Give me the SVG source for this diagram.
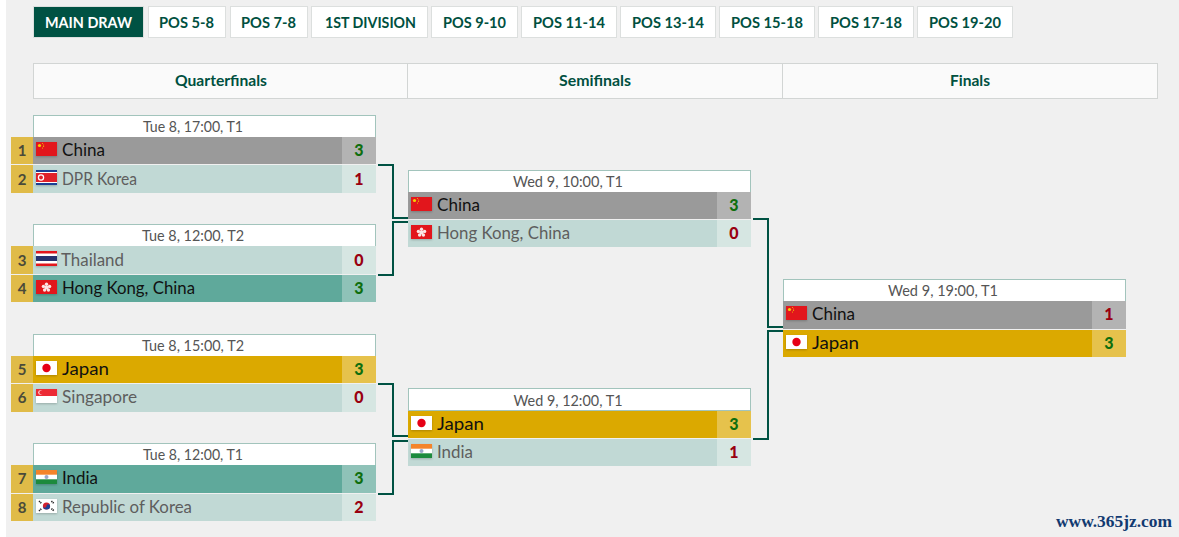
<svg xmlns="http://www.w3.org/2000/svg" xmlns:xlink="http://www.w3.org/1999/xlink" width="1179" height="537" viewBox="0 0 1179 537">
<style>
text{font-family:"Lato","Inter","Liberation Sans",sans-serif}
.tab{fill:#fff;stroke:#dcdfde;stroke-width:1}
.tabon{fill:#005243;stroke:#dcdfde;stroke-width:1}
.tt{font-size:16px;font-weight:700;fill:#00503f}
.ton{fill:#fff}
.colh{fill:#fafafa;stroke:#d2d5d4;stroke-width:1}
.ct{font-size:15px;font-weight:700;fill:#00503f}
.mh{fill:#fff;stroke:#a2c4bc;stroke-width:1}
.mt{font-size:15px;fill:#555;text-anchor:middle}
.seed{fill:#e0bb48}
.sn{font-size:15px;font-weight:700;fill:#4a4a3a;text-anchor:middle}
.l{fill:#c1d9d5}.ls{fill:#d6e6e2}
.w{fill:#5fa99b}.ws{fill:#8fc2b8}
.g{fill:#9a9a9a}.gs{fill:#b3b3b3}
.y{fill:#dba900}.ys{fill:#e6c24c}
.nl{font-size:16.5px;fill:#5e5e5e}
.nw{font-size:16.5px;fill:#111}
.s3{font-size:16px;font-weight:900;text-anchor:middle;fill:#0e6e0e}
.s0{font-size:16px;font-weight:900;text-anchor:middle;fill:#990010}
.conn{fill:none;stroke:#005243;stroke-width:2}
.wm{font-family:"Liberation Serif",serif;font-size:17px;font-weight:700;fill:#123a70}
</style>
<defs>
<filter id="sh" x="-20%" y="-20%" width="140%" height="150%"><feDropShadow dx="0" dy="1" stdDeviation="1.2" flood-color="#000" flood-opacity="0.22"/></filter>
<symbol id="cn" width="21" height="14" viewBox="0 0 21 14"><rect width="21" height="14" fill="#e2191a"/><circle cx="3.5" cy="3.5" r="1.6" fill="#f5d000"/><circle cx="6.5" cy="1.6" r=".5" fill="#f5d000"/><circle cx="7.6" cy="3" r=".5" fill="#f5d000"/><circle cx="7.6" cy="4.6" r=".5" fill="#f5d000"/><circle cx="6.5" cy="6" r=".5" fill="#f5d000"/></symbol>
<symbol id="kp" width="21" height="15" viewBox="0 0 21 15"><rect width="21" height="15" fill="#1c3f94"/><rect y="2" width="21" height="11" fill="#fff"/><rect y="3" width="21" height="9" fill="#e0202a"/><circle cx="5" cy="7.5" r="3.2" fill="#fff"/><circle cx="5" cy="7.5" r="1.9" fill="#e0202a"/></symbol>
<symbol id="th" width="21" height="15" viewBox="0 0 21 15"><rect width="21" height="15" fill="#e2191a"/><rect y="2.5" width="21" height="10" fill="#fff"/><rect y="5" width="21" height="5" fill="#27336e"/></symbol>
<symbol id="hk" width="21" height="14" viewBox="0 0 21 14"><rect width="21" height="14" fill="#e2191a"/><g fill="#fbe6e6"><circle cx="10.5" cy="4.2" r="1.7"/><circle cx="13.6" cy="6.4" r="1.7"/><circle cx="12.4" cy="10" r="1.7"/><circle cx="8.6" cy="10" r="1.7"/><circle cx="7.4" cy="6.4" r="1.7"/><circle cx="10.5" cy="7.5" r="2"/></g></symbol>
<symbol id="jp" width="21" height="14" viewBox="0 0 21 14"><rect width="21" height="14" fill="#fff"/><circle cx="10.5" cy="7" r="4.2" fill="#e60012"/></symbol>
<symbol id="sg" width="21" height="14" viewBox="0 0 21 14"><rect width="21" height="14" fill="#fff"/><rect width="21" height="7" fill="#ec2a35"/><circle cx="4.4" cy="3.5" r="2.2" fill="#fbe6e6"/><circle cx="5.3" cy="3.5" r="2" fill="#ec2a35"/></symbol>
<symbol id="in" width="21" height="14" viewBox="0 0 21 14"><rect width="21" height="14" fill="#fff"/><rect width="21" height="4.7" fill="#f4842b"/><rect y="9.3" width="21" height="4.7" fill="#1d8a3c"/><circle cx="10.5" cy="7" r="2" fill="#9aa6c8"/></symbol>
<symbol id="kr" width="21" height="14" viewBox="0 0 21 14"><rect width="21" height="14" fill="#fff"/><circle cx="10.5" cy="7" r="3.6" fill="#d3202f"/><path d="M6.9 7a3.6 3.6 0 0 0 7.2 0a1.8 1.8 0 0 0-3.6 0a1.8 1.8 0 0 1-3.6 0z" fill="#1c3f94"/><g stroke="#222" stroke-width="1.7" fill="none"><path d="M3 2.2l2.6 2.2M15.4 2.2L18 4.4M3 11.8l2.6-2.2M15.4 9.6l2.6 2.2" stroke-dasharray="1.2 .6"/></g></symbol>
</defs>
<rect width="1179" height="537" fill="#f0f0f0"/>
<rect width="6" height="537" fill="#fff"/>

<g id="tabs">
<g id="tab-main"><rect class="tabon" x="33.5" y="6.5" width="110" height="31"/><text class="tt ton" x="45" y="28" textLength="87" lengthAdjust="spacingAndGlyphs">MAIN DRAW</text></g>
<g id="tab-5-8"><rect class="tab" x="148.5" y="6.5" width="77" height="31"/><text class="tt" x="159" y="28" textLength="55" lengthAdjust="spacingAndGlyphs">POS 5-8</text></g>
<g id="tab-7-8"><rect class="tab" x="230.5" y="6.5" width="77" height="31"/><text class="tt" x="241" y="28" textLength="55" lengthAdjust="spacingAndGlyphs">POS 7-8</text></g>
<g id="tab-div1"><rect class="tab" x="311.5" y="6.5" width="116" height="31"/><text class="tt" x="325" y="28" textLength="91" lengthAdjust="spacingAndGlyphs">1ST DIVISION</text></g>
<g id="tab-9-10"><rect class="tab" x="431.5" y="6.5" width="86" height="31"/><text class="tt" x="443" y="28" textLength="63" lengthAdjust="spacingAndGlyphs">POS 9-10</text></g>
<g id="tab-11-14"><rect class="tab" x="521.5" y="6.5" width="95" height="31"/><text class="tt" x="533" y="28" textLength="72" lengthAdjust="spacingAndGlyphs">POS 11-14</text></g>
<g id="tab-13-14"><rect class="tab" x="620.5" y="6.5" width="95" height="31"/><text class="tt" x="632" y="28" textLength="72" lengthAdjust="spacingAndGlyphs">POS 13-14</text></g>
<g id="tab-15-18"><rect class="tab" x="719.5" y="6.5" width="95" height="31"/><text class="tt" x="731" y="28" textLength="72" lengthAdjust="spacingAndGlyphs">POS 15-18</text></g>
<g id="tab-17-18"><rect class="tab" x="818.5" y="6.5" width="95" height="31"/><text class="tt" x="830" y="28" textLength="72" lengthAdjust="spacingAndGlyphs">POS 17-18</text></g>
<g id="tab-19-20"><rect class="tab" x="917.5" y="6.5" width="95" height="31"/><text class="tt" x="929" y="28" textLength="72" lengthAdjust="spacingAndGlyphs">POS 19-20</text></g>
</g>

<g id="round-headers">
<g id="col-qf"><rect class="colh" x="33.5" y="63.5" width="374" height="35"/><text class="ct" x="175" y="86" textLength="92" lengthAdjust="spacingAndGlyphs">Quarterfinals</text></g>
<g id="col-sf"><rect class="colh" x="407.5" y="63.5" width="375" height="35"/><text class="ct" x="559" y="86" textLength="72" lengthAdjust="spacingAndGlyphs">Semifinals</text></g>
<g id="col-f"><rect class="colh" x="782.5" y="63.5" width="375" height="35"/><text class="ct" x="950" y="86" textLength="40" lengthAdjust="spacingAndGlyphs">Finals</text></g>
</g>

<g id="connectors">
<path class="conn" d="M378 165H393V218H408"/>
<path class="conn" d="M378 275H393V222H408"/>
<path class="conn" d="M378 384H393V436H408"/>
<path class="conn" d="M378 494H393V441H408"/>
<path class="conn" d="M753 219H768V327H783"/>
<path class="conn" d="M753 439H768V331H783"/>
</g>

<g id="qf1">
<rect class="mh" x="33.5" y="115.5" width="342" height="22"/><text class="mt" x="193" y="132" textLength="100" lengthAdjust="spacingAndGlyphs">Tue 8, 17:00, T1</text>
<rect class="seed" x="11" y="137" width="22" height="27"/><text class="sn" x="22" y="156">1</text>
<rect class="g" x="33" y="137" width="309" height="27"/><rect class="gs" x="342" y="137" width="34" height="27"/>
<use xlink:href="#cn" href="#cn" x="36" y="142" filter="url(#sh)"/><text class="nw" x="62" y="156" textLength="43" lengthAdjust="spacingAndGlyphs">China</text><text class="s3" x="359" y="156">3</text>
<rect class="seed" x="11" y="165" width="22" height="28"/><text class="sn" x="22" y="185">2</text>
<rect class="l" x="33" y="165" width="309" height="28"/><rect class="ls" x="342" y="165" width="34" height="28"/>
<use xlink:href="#kp" href="#kp" x="36" y="170" filter="url(#sh)"/><text class="nl" x="62" y="185" textLength="75" lengthAdjust="spacingAndGlyphs">DPR Korea</text><text class="s0" x="359" y="185">1</text>
</g>

<g id="qf2">
<rect class="mh" x="33.5" y="224.5" width="342" height="22"/><text class="mt" x="193" y="241" textLength="102" lengthAdjust="spacingAndGlyphs">Tue 8, 12:00, T2</text>
<rect class="seed" x="11" y="246" width="22" height="28"/><text class="sn" x="22" y="266">3</text>
<rect class="l" x="33" y="246" width="309" height="28"/><rect class="ls" x="342" y="246" width="34" height="28"/>
<use xlink:href="#th" href="#th" x="36" y="251" filter="url(#sh)"/><text class="nl" x="61" y="266" textLength="63" lengthAdjust="spacingAndGlyphs">Thailand</text><text class="s0" x="359" y="266">0</text>
<rect class="seed" x="11" y="275" width="22" height="27"/><text class="sn" x="22" y="294">4</text>
<rect class="w" x="33" y="275" width="309" height="27"/><rect class="ws" x="342" y="275" width="34" height="27"/>
<use xlink:href="#hk" href="#hk" x="36" y="280" filter="url(#sh)"/><text class="nw" x="62" y="294" textLength="133" lengthAdjust="spacingAndGlyphs">Hong Kong, China</text><text class="s3" x="359" y="294">3</text>
</g>

<g id="qf3">
<rect class="mh" x="33.5" y="334.5" width="342" height="22"/><text class="mt" x="193" y="351" textLength="102" lengthAdjust="spacingAndGlyphs">Tue 8, 15:00, T2</text>
<rect class="seed" x="11" y="356" width="22" height="27"/><text class="sn" x="22" y="375">5</text>
<rect class="y" x="33" y="356" width="309" height="27"/><rect class="ys" x="342" y="356" width="34" height="27"/>
<use xlink:href="#jp" href="#jp" x="36" y="361" filter="url(#sh)"/><text class="nw" x="62" y="375" textLength="47" lengthAdjust="spacingAndGlyphs">Japan</text><text class="s3" x="359" y="375">3</text>
<rect class="seed" x="11" y="384" width="22" height="28"/><text class="sn" x="22" y="403">6</text>
<rect class="l" x="33" y="384" width="309" height="28"/><rect class="ls" x="342" y="384" width="34" height="28"/>
<use xlink:href="#sg" href="#sg" x="36" y="389" filter="url(#sh)"/><text class="nl" x="62" y="403" textLength="75" lengthAdjust="spacingAndGlyphs">Singapore</text><text class="s0" x="359" y="403">0</text>
</g>

<g id="qf4">
<rect class="mh" x="33.5" y="443.5" width="342" height="22"/><text class="mt" x="193" y="460" textLength="100" lengthAdjust="spacingAndGlyphs">Tue 8, 12:00, T1</text>
<rect class="seed" x="11" y="465" width="22" height="28"/><text class="sn" x="22" y="484">7</text>
<rect class="w" x="33" y="465" width="309" height="28"/><rect class="ws" x="342" y="465" width="34" height="28"/>
<use xlink:href="#in" href="#in" x="36" y="470" filter="url(#sh)"/><text class="nw" x="62" y="484" textLength="36" lengthAdjust="spacingAndGlyphs">India</text><text class="s3" x="359" y="484">3</text>
<rect class="seed" x="11" y="494" width="22" height="27"/><text class="sn" x="22" y="513">8</text>
<rect class="l" x="33" y="494" width="309" height="27"/><rect class="ls" x="342" y="494" width="34" height="27"/>
<use xlink:href="#kr" href="#kr" x="36" y="499" filter="url(#sh)"/><text class="nl" x="62" y="513" textLength="130" lengthAdjust="spacingAndGlyphs">Republic of Korea</text><text class="s0" x="359" y="513">2</text>
</g>

<g id="sf1">
<rect class="mh" x="408.5" y="170.5" width="342" height="22"/><text class="mt" x="568" y="187" textLength="110" lengthAdjust="spacingAndGlyphs">Wed 9, 10:00, T1</text>
<rect class="g" x="408" y="192" width="309" height="27"/><rect class="gs" x="717" y="192" width="34" height="27"/>
<use xlink:href="#cn" href="#cn" x="411" y="197" filter="url(#sh)"/><text class="nw" x="437" y="211" textLength="43" lengthAdjust="spacingAndGlyphs">China</text><text class="s3" x="734" y="211">3</text>
<rect class="l" x="408" y="220" width="309" height="27"/><rect class="ls" x="717" y="220" width="34" height="27"/>
<use xlink:href="#hk" href="#hk" x="411" y="225" filter="url(#sh)"/><text class="nl" x="437" y="239" textLength="133" lengthAdjust="spacingAndGlyphs">Hong Kong, China</text><text class="s0" x="734" y="239">0</text>
</g>

<g id="sf2">
<rect class="mh" x="408.5" y="388.5" width="342" height="22"/><text class="mt" x="568" y="406" textLength="109" lengthAdjust="spacingAndGlyphs">Wed 9, 12:00, T1</text>
<rect class="y" x="408" y="411" width="309" height="27"/><rect class="ys" x="717" y="411" width="34" height="27"/>
<use xlink:href="#jp" href="#jp" x="411" y="416" filter="url(#sh)"/><text class="nw" x="437" y="430" textLength="47" lengthAdjust="spacingAndGlyphs">Japan</text><text class="s3" x="734" y="430">3</text>
<rect class="l" x="408" y="439" width="309" height="27"/><rect class="ls" x="717" y="439" width="34" height="27"/>
<use xlink:href="#in" href="#in" x="411" y="444" filter="url(#sh)"/><text class="nl" x="437" y="458" textLength="36" lengthAdjust="spacingAndGlyphs">India</text><text class="s0" x="734" y="458">1</text>
</g>

<g id="final">
<rect class="mh" x="783.5" y="279.5" width="342" height="22"/><text class="mt" x="943" y="296" textLength="110" lengthAdjust="spacingAndGlyphs">Wed 9, 19:00, T1</text>
<rect class="g" x="783" y="301" width="309" height="28"/><rect class="gs" x="1092" y="301" width="34" height="28"/>
<use xlink:href="#cn" href="#cn" x="786" y="306" filter="url(#sh)"/><text class="nw" x="812" y="320" textLength="43" lengthAdjust="spacingAndGlyphs">China</text><text class="s0" x="1109" y="320">1</text>
<rect class="y" x="783" y="330" width="309" height="27"/><rect class="ys" x="1092" y="330" width="34" height="27"/>
<use xlink:href="#jp" href="#jp" x="786" y="335" filter="url(#sh)"/><text class="nw" x="812" y="349" textLength="47" lengthAdjust="spacingAndGlyphs">Japan</text><text class="s3" x="1109" y="349">3</text>
</g>

<text class="wm" x="1056" y="527" textLength="116" lengthAdjust="spacingAndGlyphs">www.365jz.com</text>
</svg>
